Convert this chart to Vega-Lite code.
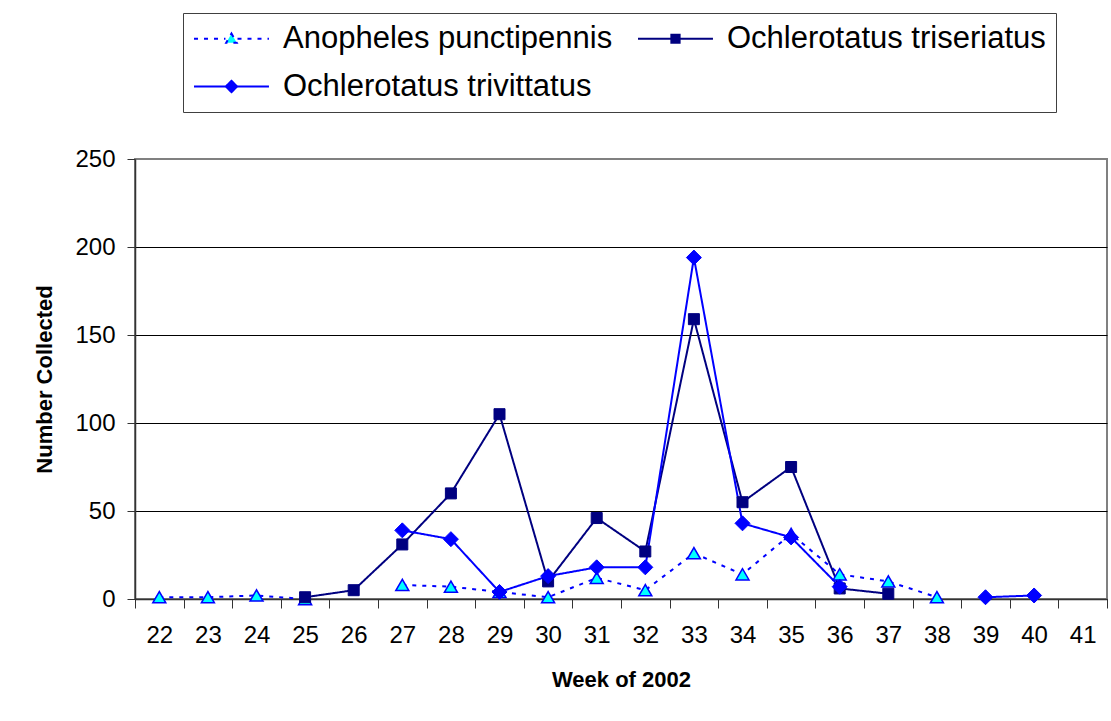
{
  "$schema": "https://vega.github.io/schema/vega-lite/v6.json",
  "width": 972,
  "height": 440,
  "autosize": {"type": "none"},
  "padding": {"left": 135, "top": 159, "right": 4, "bottom": 122},
  "background": "white",
  "config": {
    "font": "Liberation Sans",
    "view": {"stroke": "#808080", "strokeWidth": 2}
  },
  "data": {
    "values": [
      {"week": 22, "species": "Anopheles punctipennis", "count": 1},
      {"week": 23, "species": "Anopheles punctipennis", "count": 1},
      {"week": 24, "species": "Anopheles punctipennis", "count": 2},
      {"week": 25, "species": "Anopheles punctipennis", "count": 0},
      {"week": 26, "species": "Anopheles punctipennis", "count": null},
      {"week": 27, "species": "Anopheles punctipennis", "count": 8},
      {"week": 28, "species": "Anopheles punctipennis", "count": 7},
      {"week": 29, "species": "Anopheles punctipennis", "count": 4},
      {"week": 30, "species": "Anopheles punctipennis", "count": 1},
      {"week": 31, "species": "Anopheles punctipennis", "count": 12},
      {"week": 32, "species": "Anopheles punctipennis", "count": 5},
      {"week": 33, "species": "Anopheles punctipennis", "count": 26},
      {"week": 34, "species": "Anopheles punctipennis", "count": 14},
      {"week": 35, "species": "Anopheles punctipennis", "count": 37},
      {"week": 36, "species": "Anopheles punctipennis", "count": 14},
      {"week": 37, "species": "Anopheles punctipennis", "count": 10},
      {"week": 38, "species": "Anopheles punctipennis", "count": 1},
      {"week": 25, "species": "Ochlerotatus triseriatus", "count": 1},
      {"week": 26, "species": "Ochlerotatus triseriatus", "count": 5},
      {"week": 27, "species": "Ochlerotatus triseriatus", "count": 31},
      {"week": 28, "species": "Ochlerotatus triseriatus", "count": 60},
      {"week": 29, "species": "Ochlerotatus triseriatus", "count": 105},
      {"week": 30, "species": "Ochlerotatus triseriatus", "count": 10},
      {"week": 31, "species": "Ochlerotatus triseriatus", "count": 46},
      {"week": 32, "species": "Ochlerotatus triseriatus", "count": 27},
      {"week": 33, "species": "Ochlerotatus triseriatus", "count": 159},
      {"week": 34, "species": "Ochlerotatus triseriatus", "count": 55},
      {"week": 35, "species": "Ochlerotatus triseriatus", "count": 75},
      {"week": 36, "species": "Ochlerotatus triseriatus", "count": 6},
      {"week": 37, "species": "Ochlerotatus triseriatus", "count": 3},
      {"week": 27, "species": "Ochlerotatus trivittatus", "count": 39},
      {"week": 28, "species": "Ochlerotatus trivittatus", "count": 34},
      {"week": 29, "species": "Ochlerotatus trivittatus", "count": 4},
      {"week": 30, "species": "Ochlerotatus trivittatus", "count": 13},
      {"week": 31, "species": "Ochlerotatus trivittatus", "count": 18},
      {"week": 32, "species": "Ochlerotatus trivittatus", "count": 18},
      {"week": 33, "species": "Ochlerotatus trivittatus", "count": 194},
      {"week": 34, "species": "Ochlerotatus trivittatus", "count": 43},
      {"week": 35, "species": "Ochlerotatus trivittatus", "count": 35},
      {"week": 36, "species": "Ochlerotatus trivittatus", "count": 7},
      {"week": 37, "species": "Ochlerotatus trivittatus", "count": null},
      {"week": 38, "species": "Ochlerotatus trivittatus", "count": null},
      {"week": 39, "species": "Ochlerotatus trivittatus", "count": 1},
      {"week": 40, "species": "Ochlerotatus trivittatus", "count": 2}
    ]
  },
  "encoding": {
    "x": {
      "field": "week",
      "type": "ordinal",
      "scale": {
        "type": "band",
        "domain": [22, 23, 24, 25, 26, 27, 28, 29, 30, 31, 32, 33, 34, 35, 36, 37, 38, 39, 40, 41],
        "paddingInner": 0,
        "paddingOuter": 0
      },
      "axis": {
        "title": "Week of 2002",
        "labelAngle": 0,
        "tickBand": "extent",
        "tickSize": 9,
        "tickColor": "#333333",
        "domainColor": "#333333",
        "domainWidth": 1.5,
        "labelFontSize": 24,
        "labelColor": "black",
        "labelPadding": 15,
        "titleFontSize": 22,
        "titleFontWeight": "bold",
        "titleColor": "black",
        "titlePadding": 22,
        "grid": false
      }
    },
    "y": {
      "field": "count",
      "type": "quantitative",
      "scale": {"domain": [0, 250], "nice": false},
      "axis": {
        "title": "Number Collected",
        "values": [0, 50, 100, 150, 200, 250],
        "tickSize": 8,
        "tickColor": "#333333",
        "domainColor": "#333333",
        "domainWidth": 1.5,
        "labelFontSize": 24,
        "labelColor": "black",
        "labelPadding": 12,
        "titleFontSize": 22,
        "titleFontWeight": "bold",
        "titleColor": "black",
        "titlePadding": 18,
        "grid": true,
        "gridWidth": 1,
        "gridColor": {"condition": {"test": "datum.value === 250", "value": "#808080"}, "value": "black"},
        "gridOpacity": 1
      }
    }
  },
  "layer": [
    {
      "transform": [{"filter": "false"}],
      "mark": {"type": "point", "filled": true, "opacity": 1},
      "encoding": {
        "fill": {
          "field": "species",
          "type": "nominal",
          "scale": {
            "domain": ["Anopheles punctipennis", "Ochlerotatus triseriatus", "Ochlerotatus trivittatus"],
            "range": ["#00FFFF", "#000080", "#0000FF"]
          },
          "legend": {
            "title": null,
            "orient": "none",
            "legendX": 48,
            "legendY": -146,
            "direction": "horizontal",
            "columns": 2,
            "padding": 10,
            "strokeColor": "#404040",
            "fillColor": "white",
            "labelFontSize": 31,
            "labelColor": "black",
            "labelOffset": 59,
            "labelLimit": 0,
            "symbolSize": 841,
            "symbolStrokeWidth": 2,
            "symbolOpacity": 1,
            "columnPadding": 21,
            "rowPadding": 16
          }
        },
        "stroke": {
          "field": "species",
          "type": "nominal",
          "scale": {
            "domain": ["Anopheles punctipennis", "Ochlerotatus triseriatus", "Ochlerotatus trivittatus"],
            "range": ["#0000FF", "#000080", "#0000FF"]
          }
        },
        "strokeDash": {
          "field": "species",
          "type": "nominal",
          "scale": {
            "domain": ["Anopheles punctipennis", "Ochlerotatus triseriatus", "Ochlerotatus trivittatus"],
            "range": [[4, 6], [1, 0], [1, 0]]
          }
        },
        "shape": {
          "field": "species",
          "type": "nominal",
          "scale": {
            "domain": ["Anopheles punctipennis", "Ochlerotatus triseriatus", "Ochlerotatus trivittatus"],
            "range": [
              "M-1,0H1.17M2,0H4.17M1.585,-0.36L1.947,0.28L1.223,0.28Z",
              "M-1,0H4.17M1.3,-0.284H1.87V0.284H1.3Z",
              "M-1,0H4.17M1.585,-0.39L1.975,0L1.585,0.39L1.195,0Z"
            ]
          }
        }
      }
    },
    {
      "mark": {"type": "line", "strokeWidth": 2, "invalid": "break-paths-filter-domains"},
      "encoding": {
        "stroke": {"field": "species", "type": "nominal", "legend": null},
        "strokeDash": {"field": "species", "type": "nominal", "legend": null}
      }
    },
    {
      "transform": [{"filter": "datum.species === 'Anopheles punctipennis'"}],
      "mark": {"type": "point", "shape": "triangle-up", "filled": true, "fill": "#00FFFF", "stroke": "#0000FF", "strokeWidth": 1.5, "size": 169, "opacity": 1}
    },
    {
      "transform": [{"filter": "datum.species === 'Ochlerotatus triseriatus'"}],
      "mark": {"type": "point", "shape": "square", "filled": true, "fill": "#000080", "stroke": "#000080", "strokeWidth": 1, "size": 121, "opacity": 1}
    },
    {
      "transform": [{"filter": "datum.species === 'Ochlerotatus trivittatus'"}],
      "mark": {"type": "point", "shape": "diamond", "filled": true, "fill": "#0000FF", "stroke": "#0000FF", "strokeWidth": 1, "size": 225, "opacity": 1}
    }
  ]
}
